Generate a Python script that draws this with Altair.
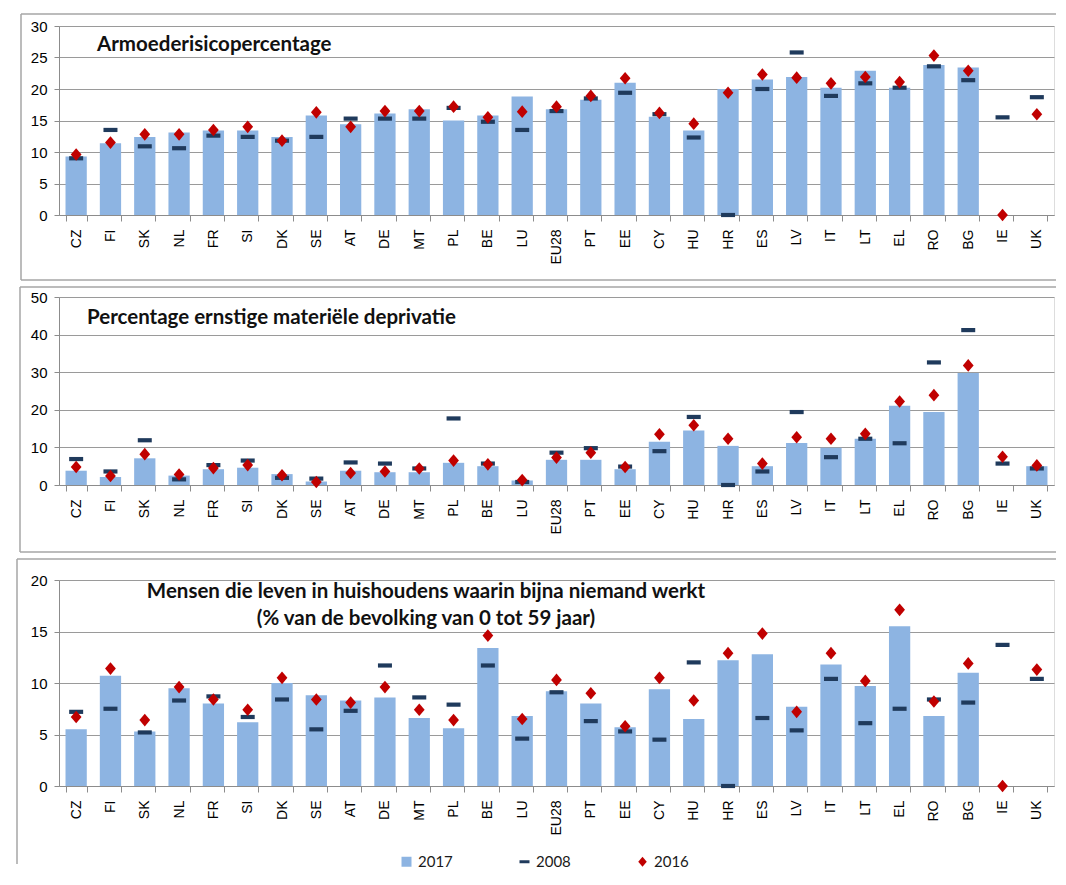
import altair as alt
import pandas as pd

countries = ["CZ", "FI", "SK", "NL", "FR", "SI", "DK", "SE", "AT", "DE", "MT", "PL", "BE", "LU",
             "EU28", "PT", "EE", "CY", "HU", "HR", "ES", "LV", "IT", "LT", "EL", "RO", "BG", "IE", "UK"]
series_names = ["2017", "2008", "2016"]

# Panel 1: Armoederisicopercentage
p1_2017 = [9.3, 11.4, 12.4, 13.1, 13.4, 13.4, 12.4, 15.8, 14.4, 16.1, 16.8, 15.0, 15.8, 18.8,
           16.8, 18.3, 21.0, 15.6, 13.4, 20.0, 21.5, 21.9, 20.2, 22.9, 20.2, 23.8, 23.4, None, None]
p1_2008 = [9.0, 13.5, 10.9, 10.6, 12.6, 12.4, 11.8, 12.4, 15.3, 15.3, 15.3, 17.0, 14.8, 13.5,
           16.5, 18.5, 19.4, 16.0, 12.3, 0.0, 20.0, 25.8, 18.9, 20.9, 20.2, 23.6, 21.4, 15.5, 18.7]
p1_2016 = [9.6, 11.5, 12.8, 12.8, 13.5, 14.0, 11.8, 16.3, 14.0, 16.5, 16.5, 17.2, 15.5, 16.4,
           17.2, 18.9, 21.7, 16.2, 14.5, 19.4, 22.3, 21.8, 20.9, 21.9, 21.1, 25.3, 22.9, 0.0, 16.0]

# Panel 2: Percentage ernstige materiele deprivatie
p2_2017 = [3.8, 2.1, 7.1, 2.5, 4.2, 4.6, 2.9, 0.9, 3.8, 3.4, 3.4, 5.9, 5.0, 1.2,
           6.7, 6.7, 4.2, 11.5, 14.5, 10.4, 5.0, 11.2, 9.9, 12.3, 21.1, 19.4, 29.8, None, 5.0]
p2_2008 = [6.9, 3.6, 11.9, 1.5, 5.3, 6.5, 1.9, 1.7, 6.0, 5.7, 4.4, 17.7, 5.7, 0.8,
           8.6, 9.8, 4.9, 9.0, 18.1, 0.0, 3.6, 19.4, 7.4, 12.3, 11.1, 32.6, 41.2, 5.7, 4.4]
p2_2016 = [4.8, 2.4, 8.2, 2.8, 4.5, 5.3, 2.6, 0.8, 3.2, 3.6, 4.4, 6.5, 5.5, 1.3,
           7.3, 8.6, 4.8, 13.5, 15.9, 12.3, 5.7, 12.7, 12.3, 13.6, 22.2, 23.9, 31.8, 7.5, 5.2]

# Panel 3: Mensen die leven in huishoudens waarin bijna niemand werkt
p3_2017 = [5.5, 10.7, 5.3, 9.5, 8.0, 6.2, 10.0, 8.8, 8.3, 8.6, 6.6, 5.6, 13.4, 6.8,
           9.2, 8.0, 5.7, 9.4, 6.5, 12.2, 12.8, 7.7, 11.8, 9.7, 15.5, 6.8, 11.0, None, None]
p3_2008 = [7.2, 7.5, 5.2, 8.3, 8.7, 6.7, 8.4, 5.5, 7.3, 11.7, 8.6, 7.9, 11.7, 4.6,
           9.1, 6.3, 5.3, 4.5, 12.0, 0.0, 6.6, 5.4, 10.4, 6.1, 7.5, 8.4, 8.1, 13.7, 10.4]
p3_2016 = [6.7, 11.4, 6.4, 9.6, 8.4, 7.4, 10.5, 8.4, 8.1, 9.6, 7.4, 6.4, 14.6, 6.5,
           10.3, 9.0, 5.8, 10.5, 8.3, 12.9, 14.8, 7.2, 12.9, 10.2, 17.1, 8.2, 11.9, 0.0, 11.3]

title1 = "Armoederisicopercentage"
title2 = "Percentage ernstige materiële  deprivatie"
title3 = "Mensen die leven in huishoudens waarin bijna niemand werkt\n(% van de bevolking van 0 tot 59 jaar)"

W = 995
FONT = "Lato"
BAR = "#8DB4E2"
DASH = "#1F3A5C"
RED = "#C00000"
FRAME = "#A6A6A6"
DASH_PATH = "M-1,-0.3L1,-0.3L1,0.3L-1,0.3Z"
DIAMOND_PATH = "M0,-1L0.85,0L0,1L-0.85,0Z"


def long_df(v17, v08, v16):
    rows = []
    for s, vals in zip(series_names, [v17, v08, v16]):
        for c, v in zip(countries, vals):
            if v is not None:
                rows.append({"country": c, "series": s, "value": v})
    return pd.DataFrame(rows)


def panel(v17, v08, v16, ymax, ystep, height, title, tx, ty, talign,
          ftop, fleft, fbottom, legend):
    df = long_df(v17, v08, v16)
    base = alt.Chart(df)
    x = alt.X("country:N", sort=countries,
              scale=alt.Scale(domain=countries, paddingInner=0.38, paddingOuter=0.19),
              axis=alt.Axis(title=None, labelAngle=270, labelFontSize=14, tickSize=6,
                            tickBand="extent", labelPadding=8, grid=False,
                            domainColor="#8C8C8C", tickColor="#8C8C8C"))
    y = alt.Y("value:Q",
              scale=alt.Scale(domain=[0, ymax], nice=False, zero=True),
              axis=alt.Axis(title=None, values=list(range(0, ymax + 1, ystep)),
                            tickSize=5, labelPadding=7, labelFontSize=15, grid=True,
                            gridColor="#9A9A9A", domainColor="#8C8C8C", tickColor="#8C8C8C"))
    if legend:
        leg = alt.Legend(title=None, orient="none", legendX=340, legendY=274,
                         direction="horizontal", columns=3, columnPadding=64,
                         labelFontSize=15, labelFont=FONT, labelColor="#1A1A1A",
                         symbolSize=100, padding=0, labelOffset=4)
    else:
        leg = None
    color = alt.Color("series:N", scale=alt.Scale(domain=series_names, range=[BAR, DASH, RED]),
                      legend=leg)
    shape = alt.Shape("series:N",
                      scale=alt.Scale(domain=series_names, range=["square", DASH_PATH, DIAMOND_PATH]),
                      legend=leg)
    bars = base.transform_filter(alt.datum.series == "2017").mark_bar(opacity=1).encode(
        x=x, y=y, color=color)
    dashes = base.transform_filter(alt.datum.series == "2008").mark_point(
        filled=True, size=196, opacity=1).encode(x=x, y=y, color=color, shape=shape)
    diamonds = base.transform_filter(alt.datum.series == "2016").mark_point(
        filled=True, size=160, opacity=1).encode(x=x, y=y, color=color, shape=shape)

    one = alt.Chart(pd.DataFrame({"t": [title]}))
    ttext = one.mark_text(font=FONT, fontSize=20.5, fontWeight="bold", color="#111111",
                          align=talign, baseline="middle", lineBreak="\n", lineHeight=27).encode(
        x=alt.value(tx), y=alt.value(ty), text="t:N")
    top = one.mark_rule(color=FRAME, strokeWidth=1.5).encode(
        x=alt.value(fleft), x2=alt.value(W + 2), y=alt.value(ftop))
    left = one.mark_rule(color=FRAME, strokeWidth=1.5).encode(
        x=alt.value(fleft), y=alt.value(ftop), y2=alt.value(fbottom))
    anchor = one.mark_rule(color="#FFFFFF", strokeOpacity=0, strokeWidth=1).encode(
        x=alt.value(-42), y=alt.value(ftop), y2=alt.value(ftop + 5))
    layers = [bars, dashes, diamonds, ttext, top, left, anchor]
    if fbottom < 270:
        bottom = one.mark_rule(color=FRAME, strokeWidth=1.5).encode(
            x=alt.value(fleft), x2=alt.value(W + 2), y=alt.value(fbottom))
        layers.append(bottom)
    return alt.layer(*layers).properties(width=W, height=height)


c1 = panel(p1_2017, p1_2008, p1_2016, 30, 5, 189, title1, 38, 19, "left",
           -12, -38, 254, False)
c2 = panel(p2_2017, p2_2008, p2_2016, 50, 10, 188, title2, 28, 21, "left",
           -10, -39, 255, False)
c3 = panel(p3_2017, p3_2008, p3_2016, 20, 5, 206, title3, 367, 12, "center",
           -21, -42, 284, True)

chart = alt.vconcat(c1, c2, c3, spacing=3).resolve_scale(
    x="independent", y="independent", color="independent", shape="independent"
).properties(
    padding={"left": 7, "top": 4, "right": 0, "bottom": 0}
).configure_view(stroke=None).configure_axis(
    labelFont=FONT, labelColor="#1A1A1A"
).configure(background="#FFFFFF")

chart.save("out.html", embed_options={"renderer": "svg", "actions": False})
